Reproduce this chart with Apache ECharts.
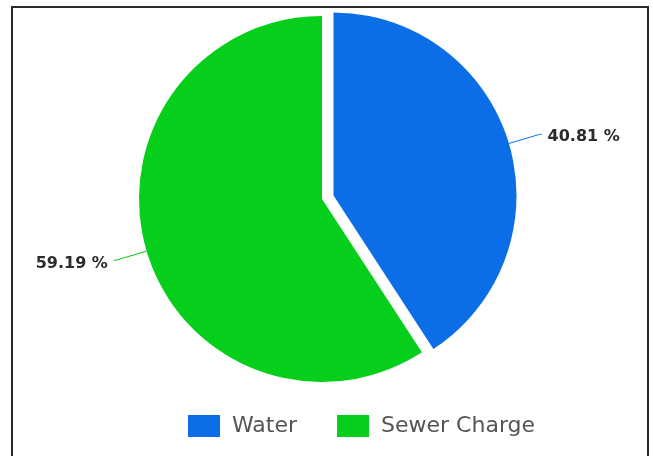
<!DOCTYPE html>
<html>
<head>
<meta charset="utf-8">
<script src="https://cdn.jsdelivr.net/npm/echarts@6/dist/echarts.min.js"></script>
<style>
  html, body { margin: 0; padding: 0; background: #ffffff; }
  #chart { width: 653px; height: 456px; }
</style>
</head>
<body>
<div id="chart"></div>
<script>
// Share of the bill by charge type (percent)
const categories = ['Water', 'Sewer Charge'];
const shares = [40.81, 59.19];
const colors = ['#0c6ee6', '#05cf1a'];

const chart = echarts.init(document.getElementById('chart'), null, { renderer: 'canvas' });

chart.setOption({
  backgroundColor: '#ffffff',
  animation: false,
  color: colors,
  graphic: [{
    type: 'rect',
    shape: { x: 12, y: 7, width: 636, height: 470 },
    style: { fill: 'none', stroke: '#2a2a2a', lineWidth: 2 },
    silent: true,
    z: 0
  }],
  legend: {
    data: categories,
    top: 410,
    left: 183,
    icon: 'rect',
    itemWidth: 32,
    itemHeight: 22,
    itemGap: 40,
    textStyle: {
      fontFamily: 'DejaVu Sans',
      fontSize: 22,
      color: '#555555',
      padding: [0, 0, 0, 7]
    }
  },
  series: [{
    type: 'pie',
    center: [322, 199],
    radius: 183,
    startAngle: 90,
    clockwise: true,
    selectedMode: 'single',
    selectedOffset: 12,
    avoidLabelOverlap: false,
    emphasis: { disabled: true },
    label: {
      show: true,
      position: 'outside',
      formatter: function (p) { return p.value.toFixed(2) + ' %'; },
      fontFamily: 'DejaVu Sans',
      fontWeight: 'bold',
      fontSize: 16,
      color: '#2b2b2b',
      distanceToLabelLine: 6
    },
    labelLine: {
      show: true,
      length: 32,
      length2: 2,
      lineStyle: { width: 1 }
    },
    labelLayout: function (params) {
      return { dy: params.dataIndex === 1 ? 4 : 2 };
    },
    data: categories.map(function (name, i) {
      return { name: name, value: shares[i], selected: i === 0 };
    })
  }]
});
</script>
</body>
</html>
